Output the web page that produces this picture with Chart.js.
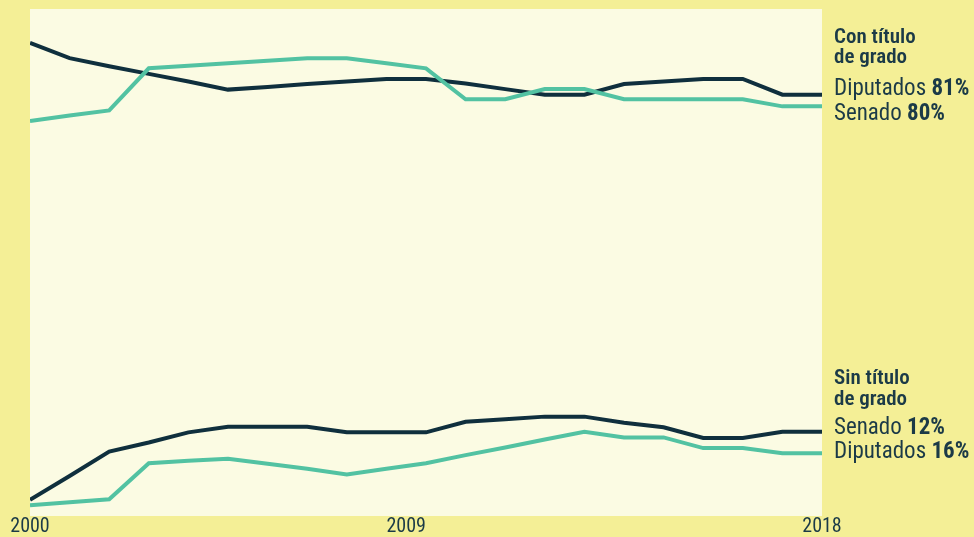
<!DOCTYPE html>
<html>
<head>
<meta charset="utf-8">
<script src="https://cdn.jsdelivr.net/npm/chart.js@4/dist/chart.umd.min.js"></script>
<style>
  html, body { margin: 0; padding: 0; background: #f4ef96; }
  #wrap { position: relative; width: 974px; height: 537px; }
</style>
</head>
<body>
<div id="wrap"><canvas id="c"></canvas></div>
<script>
// ---- data ----
const periods = [0,1,2,3,4,5,6,7,8,9,10,11,12,13,14,15,16,17,18,19,20];
const tickPositions = [0, 9.5, 20];
const tickLabels = ['2000', '2009', '2018'];

const diputadosConTitulo = [93.3,90.3,88.7,87.2,85.7,84.1,84.6,85.2,85.7,86.2,86.2,85.3,84.2,83.1,83.1,85.2,85.7,86.2,86.2,83.1,83.1];
const senadoConTitulo    = [77.9,79.0,80.0,88.3,88.8,89.3,89.8,90.3,90.3,89.3,88.3,82.2,82.2,84.2,84.2,82.2,82.2,82.2,82.2,80.8,80.8];
const diputadosSinTitulo = [3.2,7.9,12.7,14.5,16.5,17.6,17.6,17.6,16.5,16.5,16.5,18.6,19.1,19.6,19.6,18.4,17.5,15.4,15.4,16.6,16.6];
const senadoSinTitulo    = [2.1,2.7,3.3,10.4,10.9,11.3,10.3,9.3,8.2,9.3,10.4,12.0,13.5,15.1,16.6,15.5,15.5,13.4,13.4,12.4,12.4];

const groupTitles = [['Con título', 'de grado'], ['Sin título', 'de grado']];
const topLabels = [['Diputados ', '81%'], ['Senado ', '80%']];
const bottomLabels = [['Senado ', '12%'], ['Diputados ', '16%']];

// ---- styles ----
const DARK = '#0f2f3d';
const TEAL = '#52c2a2';
const TEXT = '#1b3a47';
const PLOT_BG = '#fbfbe3';
const FONT = '"Liberation Sans Narrow", "Roboto Condensed", "DejaVu Sans Condensed", "Liberation Sans", sans-serif';

const toPts = arr => arr.map((v, i) => ({ x: periods[i], y: v }));

const plotBg = {
  id: 'plotBg',
  beforeDraw(chart) {
    const { ctx, chartArea: a } = chart;
    ctx.save();
    ctx.fillStyle = PLOT_BG;
    ctx.fillRect(a.left, a.top, a.right - a.left, a.bottom - a.top);
    ctx.restore();
  }
};

function drawMixed(ctx, x, y, parts, size) {
  ctx.font = '400 ' + size + 'px ' + FONT;
  ctx.fillText(parts[0], x, y);
  const w = ctx.measureText(parts[0]).width;
  ctx.font = '700 ' + size + 'px ' + FONT;
  ctx.fillText(parts[1], x + w, y);
}

const sideLabels = {
  id: 'sideLabels',
  afterDraw(chart) {
    const { ctx, chartArea: a } = chart;
    const x = a.right + 12;
    ctx.save();
    ctx.fillStyle = TEXT;
    ctx.textBaseline = 'alphabetic';
    ctx.textAlign = 'left';
    // top group
    ctx.font = '600 21px ' + FONT;
    ctx.fillText(groupTitles[0][0], x, 43);
    ctx.fillText(groupTitles[0][1], x, 63);
    drawMixed(ctx, x, 95, topLabels[0], 23);
    drawMixed(ctx, x, 120, topLabels[1], 23);
    // bottom group
    ctx.font = '600 21px ' + FONT;
    ctx.fillText(groupTitles[1][0], x, 384);
    ctx.fillText(groupTitles[1][1], x, 405);
    drawMixed(ctx, x, 434, bottomLabels[0], 23);
    drawMixed(ctx, x, 458, bottomLabels[1], 23);
    ctx.restore();
  }
};

const lineDs = (data, color) => ({
  data: toPts(data),
  borderColor: color,
  borderWidth: 4,
  pointRadius: 0,
  pointHoverRadius: 0,
  tension: 0,
  fill: false
});

new Chart(document.getElementById('c'), {
  type: 'line',
  data: {
    datasets: [
      lineDs(senadoConTitulo, TEAL),
      lineDs(diputadosConTitulo, DARK),
      lineDs(senadoSinTitulo, TEAL),
      lineDs(diputadosSinTitulo, DARK)
    ]
  },
  options: {
    responsive: true,
    maintainAspectRatio: false,
    animation: false,
    layout: { padding: { left: 30, right: 152, top: 9, bottom: 0 } },
    plugins: { legend: { display: false }, tooltip: { enabled: false } },
    scales: {
      x: {
        type: 'linear',
        min: 0,
        max: 20,
        grid: { display: false, drawTicks: false },
        border: { display: false },
        afterBuildTicks(scale) { scale.ticks = tickPositions.map(v => ({ value: v })); },
        ticks: {
          autoSkip: false,
          maxRotation: 0,
          padding: 2,
          color: TEXT,
          font: { family: FONT, size: 20, lineHeight: 0.85 },
          callback(v) { const i = tickPositions.indexOf(v); return i >= 0 ? tickLabels[i] : ''; }
        }
      },
      y: { display: false, min: 0, max: 100 }
    }
  },
  plugins: [plotBg, sideLabels]
});
</script>
</body>
</html>
